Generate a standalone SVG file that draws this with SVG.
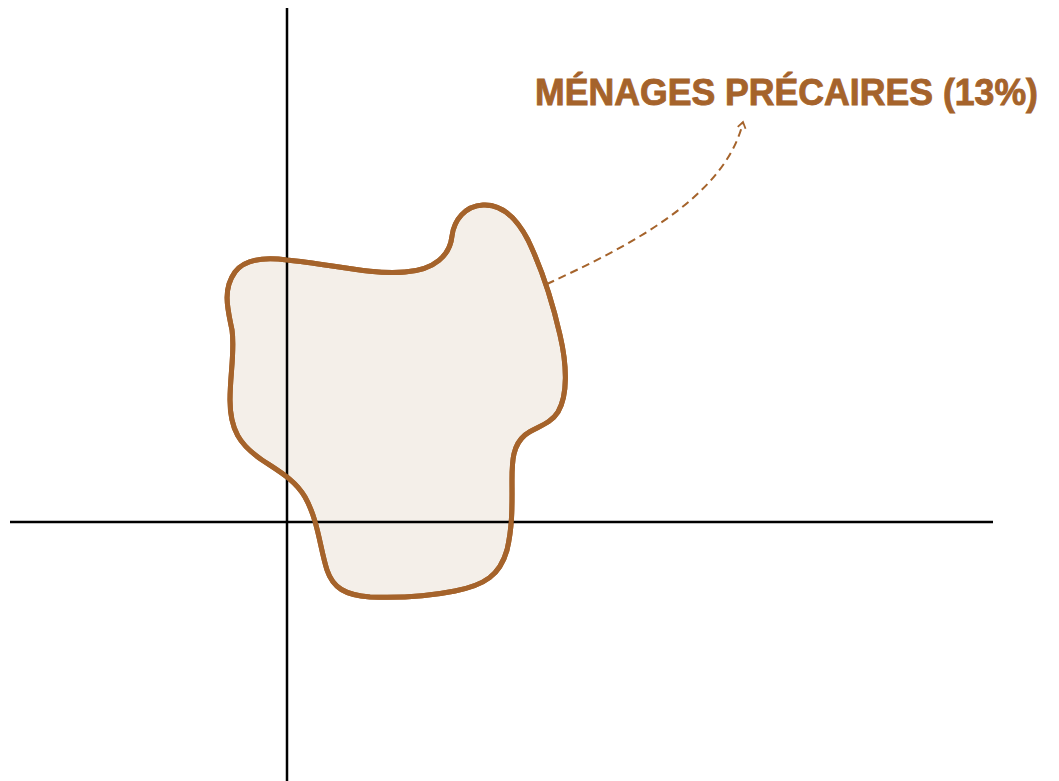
<svg xmlns="http://www.w3.org/2000/svg" width="1059" height="781" viewBox="0 0 1059 781">
<style>
.axis{stroke:#000;stroke-width:2.5;fill:none}
.blob{fill:#F4EFE9;stroke:#A5632B;stroke-width:5}
.lead{fill:none;stroke:#A5632B;stroke-width:2;stroke-dasharray:8 5}
.label{font-family:"Liberation Sans",Arial,sans-serif;font-weight:bold;font-size:37px;fill:#A5632B;stroke:#A5632B;stroke-width:0.9}
</style>
<defs>
<marker id="arr" markerWidth="10" markerHeight="10" refX="7" refY="5" orient="auto" markerUnits="userSpaceOnUse">
<path d="M1 1 L7 5 L1 9" fill="none" stroke="#A5632B" stroke-width="1.8"/>
</marker>
</defs>
<rect width="1059" height="781" fill="#fff"/>
<g id="blob-fill">
<path class="blob" stroke="none" d="M 287 260 C 330 264, 370 275, 405 272 C 435 270, 450 255, 452 236 C 454 220, 465 206, 483 205 C 500 204, 515 215, 528 240 C 540 265, 552 300, 560 335 C 567 365, 568 395, 558 412 C 550 425, 535 427, 525 435 C 513 445, 512 460, 512 480 C 512 500, 513 525, 507 550 C 500 575, 485 585, 455 591 C 425 597, 395 598, 370 597 C 345 595, 333 588, 327 570 C 320 548, 318 520, 305 497 C 295 480, 280 472, 262 460 C 240 445, 230 430, 230 400 C 230 375, 235 350, 232 330 C 228 310, 222 290, 235 272 C 245 259, 265 257, 287 260 Z"/>
</g>
<g id="axes">
<line class="axis" x1="287" y1="8" x2="287" y2="781"/>
<line class="axis" x1="10" y1="522" x2="993" y2="522"/>
</g>
<g id="menages-precaires">
<path class="blob" style="fill:none" d="M 287 260 C 330 264, 370 275, 405 272 C 435 270, 450 255, 452 236 C 454 220, 465 206, 483 205 C 500 204, 515 215, 528 240 C 540 265, 552 300, 560 335 C 567 365, 568 395, 558 412 C 550 425, 535 427, 525 435 C 513 445, 512 460, 512 480 C 512 500, 513 525, 507 550 C 500 575, 485 585, 455 591 C 425 597, 395 598, 370 597 C 345 595, 333 588, 327 570 C 320 548, 318 520, 305 497 C 295 480, 280 472, 262 460 C 240 445, 230 430, 230 400 C 230 375, 235 350, 232 330 C 228 310, 222 290, 235 272 C 245 259, 265 257, 287 260 Z"/>
</g>
<g id="connectors">
<path class="lead" d="M 547 284 C 620 250, 725 200, 743 122" marker-end="url(#arr)"/>
</g>
<g id="label">
<text class="label" x="535" y="105" textLength="503" lengthAdjust="spacingAndGlyphs">MÉNAGES PRÉCAIRES (13%)</text>
</g>
</svg>
